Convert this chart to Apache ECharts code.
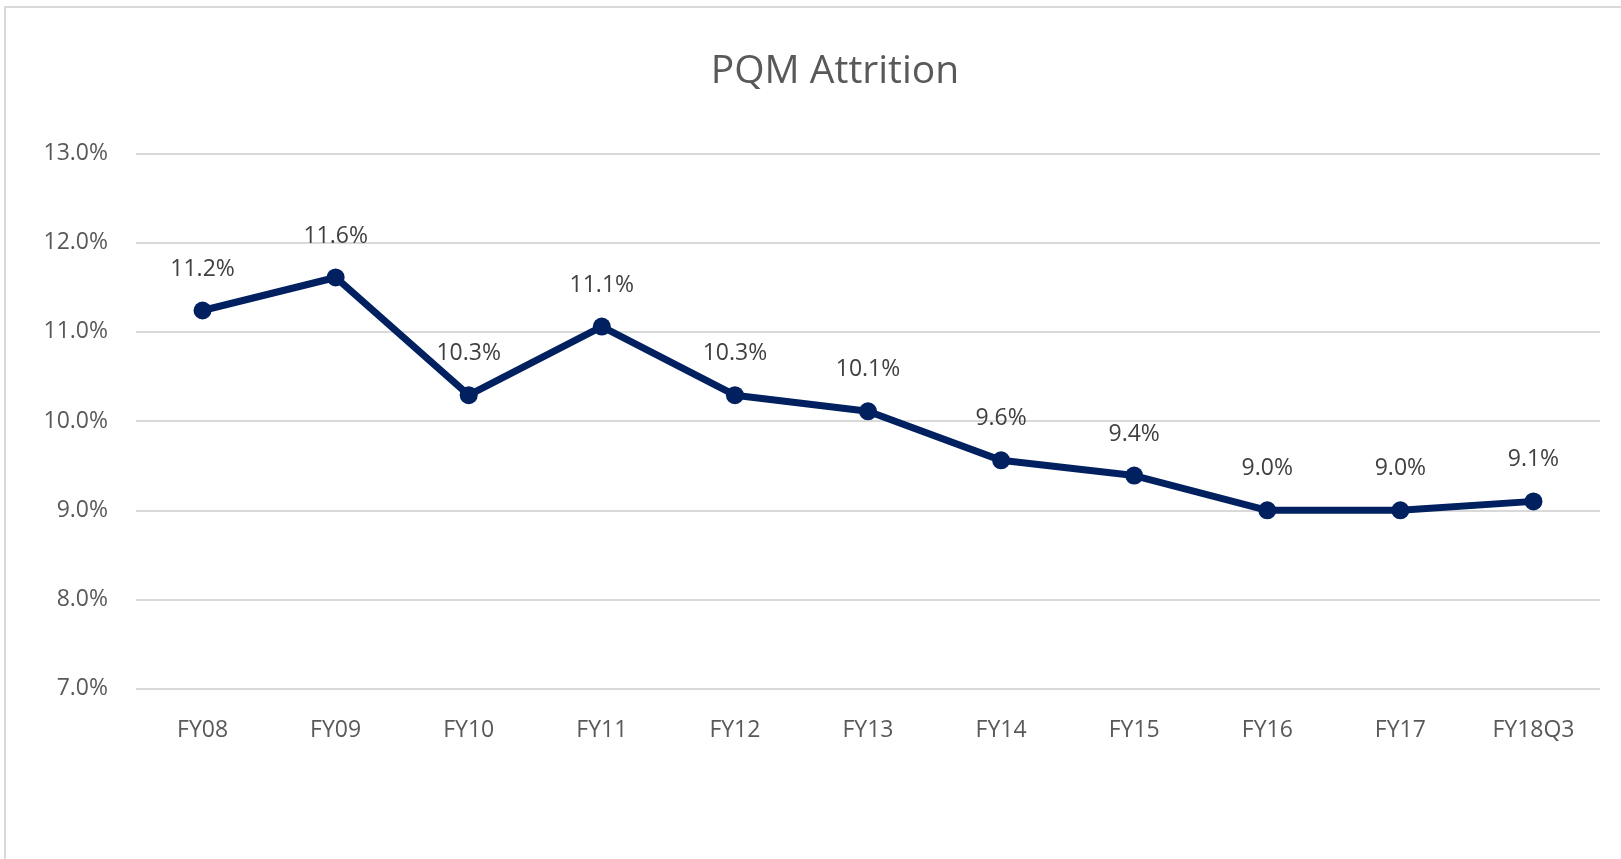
<!DOCTYPE html>
<html>
<head>
<meta charset="utf-8">
<script src="https://cdn.jsdelivr.net/npm/echarts@6/dist/echarts.min.js"></script>
<style>
  html, body { margin: 0; padding: 0; background: #fff; overflow: hidden; }
  #chart { width: 1621px; height: 859px; }
</style>
</head>
<body>
<div id="chart"></div>
<script>
// data
const categories = ['FY08', 'FY09', 'FY10', 'FY11', 'FY12', 'FY13', 'FY14', 'FY15', 'FY16', 'FY17', 'FY18Q3']
const attrition = [11.24, 11.61, 10.29, 11.06, 10.29, 10.11, 9.56, 9.39, 9.0, 9.0, 9.1]
const yTicks = { min: 7, max: 13, step: 1 }

const font = "'Open Sans', 'Noto Sans', sans-serif"
const chart = echarts.init(document.getElementById('chart'))

chart.setOption({
    backgroundColor: '#fff',
    animation: false,
    title: {
        text: 'PQM Attrition',
        left: 835,
        top: 52,
        padding: 0,
        textAlign: 'center',
        textStyle: { color: '#595959', fontSize: 39, fontWeight: 'normal', fontFamily: font },
    },
    graphic: [{
        type: 'rect',
        shape: { x: 5, y: 7, width: 1800, height: 1000 },
        style: { fill: 'none', stroke: '#d9d9d9', lineWidth: 2 },
        silent: true,
    }],
    grid: { left: 136, right: 21, top: 153.5, bottom: 170.3, containLabel: false },
    xAxis: {
        type: 'category',
        data: categories,
        boundaryGap: true,
        axisLine: { show: false },
        axisTick: { show: false },
        axisLabel: { color: '#595959', fontSize: 23, fontFamily: font, margin: 30 },
    },
    yAxis: {
        type: 'value',
        min: yTicks.min,
        max: yTicks.max,
        interval: yTicks.step,
        axisLine: { show: false },
        axisTick: { show: false },
        splitLine: { lineStyle: { color: '#d9d9d9', width: 2 } },
        axisLabel: {
            color: '#595959', fontSize: 23, fontFamily: font, margin: 28,
            formatter: v => v.toFixed(1) + '%',
        },
    },
    series: [{
        type: 'line',
        data: attrition,
        symbol: 'circle',
        symbolSize: 18,
        lineStyle: { color: '#002060', width: 7 },
        itemStyle: { color: '#002060' },
        label: {
            show: true,
            position: 'top',
            distance: 21,
            color: '#404040',
            fontSize: 23,
            fontFamily: font,
            formatter: p => p.value.toFixed(1) + '%',
        },
    }],
})
</script>
</body>
</html>
